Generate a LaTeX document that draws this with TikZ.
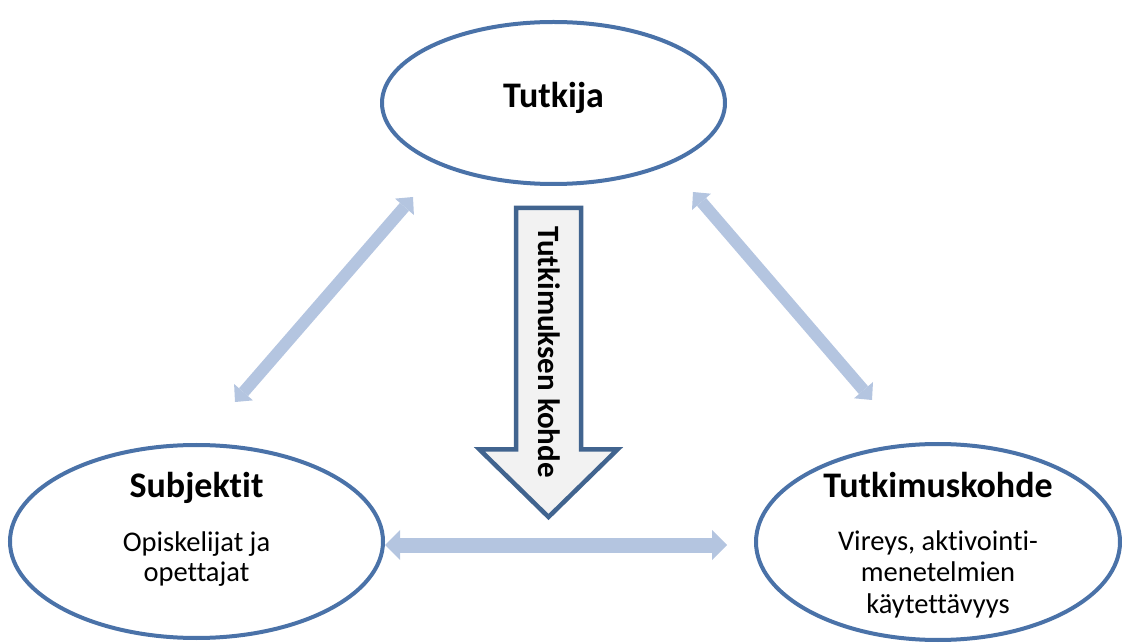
\documentclass[tikz,border=0pt]{standalone}
\usepackage{fontspec}
\setmainfont[Ligatures=NoCommon]{Carlito}
\usetikzlibrary{arrows.meta, shapes.geometric}
\definecolor{ink}{HTML}{000000}
\definecolor{ringB}{HTML}{4A72A8}
\definecolor{shaftB}{HTML}{B4C5E0}
\definecolor{kohdeB}{HTML}{41648F}
\definecolor{kohdeA}{HTML}{F2F2F2}
\tikzset{
  bubble/.style={ellipse, draw=ringB, line width=4pt, fill=white, inner sep=0pt},
  heading/.style={font=\bfseries\fontsize{36}{40}\selectfont, text=ink, inner sep=0pt},
  body/.style={font=\fontsize{28.5}{31.5}\selectfont, text=ink, align=center, inner sep=0pt},
  link/.style={{Triangle[length=13pt,width=25pt,line width=0pt]}-{Triangle[length=13pt,width=25pt,line width=0pt]}, line width=12pt, draw=shaftB},
  widelink/.style={{Triangle[length=15pt,width=30pt,line width=0pt]}-{Triangle[length=15pt,width=30pt,line width=0pt]}, line width=15pt, draw=shaftB},
  downarrow/.style={draw=kohdeB, fill=kohdeA, line width=4.5pt, line join=miter}
}

\begin{document}
\begin{tikzpicture}[x=1pt,y=1pt]
\useasboundingbox (0,0) rectangle (1122,643);

% ellipses
\node[bubble, minimum width=343, minimum height=162] (tutkija) at (553.5,540) {};
\node[bubble, minimum width=373, minimum height=193] (subj) at (196.5,101.5) {};
\node[bubble, minimum width=364, minimum height=196] (kohde) at (938,101) {};

% base = last line
\node[heading, anchor=base] (tutkijattl) at (553.5,535) {Tutkija};
\node[heading, anchor=base] (subjttl) at (196.5,145) {Subjektit};
\node[body, font=\fontsize{28.5}{29.5}\selectfont, anchor=base] (subjtxt) at (196.5,62) {Opiskelijat ja\\opettajat};
\node[heading, anchor=base] (kohdettl) at (938,145) {Tutkimuskohde};
\node[body, anchor=base] (kohdetxt) at (938,30) {Vireys, aktivointi-\\menetelmien\\käytettävyys};

% connectors
\coordinate (tl) at (413,446);
\coordinate (sl) at (235,241);
\coordinate (tr) at (693,451);
\coordinate (kr) at (872,243);
\coordinate (sh) at (385,98);
\coordinate (kh) at (727,98);
\draw[link] (tl) -- (sl);
\draw[link] (tr) -- (kr);
\draw[widelink] (sh) -- (kh);

% big down arrow
\draw[downarrow] (516,435) -- (581,435) -- (581,193.5) -- (617.5,193.5)
  -- (548.5,126) -- (479.5,193.5) -- (516,193.5) -- cycle;
\node[font=\bfseries\fontsize{31}{34}\selectfont, text=ink, rotate=-90, inner sep=0pt] (aihe) at (549,291) {Tutkimuksen kohde};

\end{tikzpicture}
\end{document}
